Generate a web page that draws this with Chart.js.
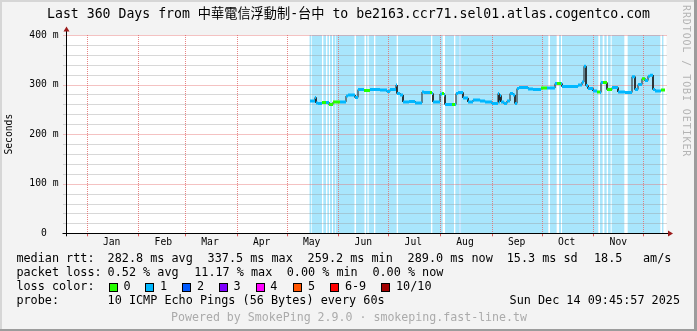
<!DOCTYPE html>
<html><head><meta charset="utf-8">
<script src="https://cdn.jsdelivr.net/npm/chart.js"></script>
<style>html,body{margin:0;padding:0;background:#f3f3f3}canvas{display:block}</style>
</head><body>
<canvas id="c" width="697" height="331" style="width:697px;height:331px"></canvas>
<script>
// ---------------- data ----------------
const chartTitle = 'Last 360 Days from 中華電信浮動制-台中 to be2163.ccr71.sel01.atlas.cogentco.com';
const yAxisTitle = 'Seconds';
// days counted from 2025-01-01 00:00
const xRangeDays = [-12.1, 347.9];
const monthLabels = ['Jan','Feb','Mar','Apr','May','Jun','Jul','Aug','Sep','Oct','Nov'];
const monthStartDay = [0,31,59,90,120,151,181,212,243,273,304,334];
const labelOffsetDays = 15;
const yMinMs = 0, yMaxMs = 400, yStepMs = 20, yMajorMs = 100;

// median rtt (ms) per sample, sample start day, loss level index
const sampleDay = [134.0,137.0,137.6,138.8,141.2,143.6,145.4,147.8,152.0,155.6,156.8,161.0,162.8,166.4,170.0,176.0,180.2,182.0,185.6,186.2,188.0,189.8,193.4,197.0,201.2,202.4,206.0,207.2,207.8,212.0,213.2,214.4,215.0,219.2,221.0,221.6,222.8,225.8,228.8,231.8,236.0,239.0,243.2,246.8,247.4,248.0,248.6,250.4,252.2,254.0,255.8,257.0,258.2,259.4,264.8,267.8,272.6,276.2,281.0,282.2,284.6,285.2,294.8,297.2,298.4,299.6,300.8,303.8,306.2,308.0,308.6,309.8,312.2,315.2,318.8,323.0,327.2,329.0,330.8,333.2,335.0,336.8,338.0,339.8,341.0,344.6];
const medianMs  = [267,274,263,262,264,264,260,265,265,277,279,274,290,288,290,289,286,290,299,282,279,265,266,263,285,284,284,282,265,281,282,279,260,260,260,282,284,273,265,269,267,265,262,282,265,278,265,262,267,282,279,262,292,294,291,290,293,293,302,302,302,296,299,305,337,298,292,287,285,284,304,304,290,294,285,284,316,290,300,312,308,317,319,290,287,289];
const lossLevel = [1,1,1,1,0,1,0,0,1,1,1,1,1,0,1,1,1,1,1,1,1,1,1,1,1,1,0,1,1,1,0,1,1,0,1,1,1,1,1,1,1,1,1,1,1,1,1,1,1,1,1,1,1,1,1,1,0,1,1,0,1,1,1,1,1,1,1,1,0,1,1,0,0,1,1,1,1,1,1,0,1,1,1,1,1,0];
const lastSampleEnd = 347.0;

// loss background periods (days)
const lossBg1Start = [133.6,135.0,142.0,144.4,146.0,147.8,149.4,161.6,167.6,169.2,173.2,186.8,207.4,215.0,221.2,224.3,278.0,283.4,285.2,308.0,310.6,312.8,315.0,324.6,345.2];
const lossBg1End   = [134.6,141.2,143.6,145.4,147.2,149.0,160.7,166.7,168.5,172.4,186.0,206.6,213.6,220.4,223.7,277.0,282.0,284.6,307.0,309.6,312.0,314.4,322.6,344.2,346.2];
const lossBg2Start = [223.7];
const lossBg2End   = [224.3];

const lossColors = ['#26ff00','#00b8ff','#0059ff','#7e00ff','#ff00ff','#ff5500','#ff0000','#a10000'];
const lossLabels = ['0','1','2','3','4','5','6-9','10/10'];

const legendRtt  = ['median rtt:','282.8 ms avg','337.5 ms max','259.2 ms min','289.0 ms now','15.3 ms sd','18.5','am/s'];
const legendLoss = ['packet loss:','0.52 % avg','11.17 % max','0.00 % min','0.00 % now'];
const legendLossColor = 'loss color:';
const legendProbe = ['probe:','10 ICMP Echo Pings (56 Bytes) every 60s'];
const legendDate = 'Sun Dec 14 09:45:57 2025';
const footerText = 'Powered by SmokePing 2.9.0 · smokeping.fast-line.tw';
const sideText = 'RRDTOOL / TOBI OETIKER';

// ---------------- build ----------------
const MONO = "'DejaVu Sans Mono', 'Noto Sans CJK TC', monospace";
const majorColor = 'rgba(228,110,110,0.85)';
const minorColor = 'rgba(150,150,150,0.75)';

function bgPoints(starts, ends){
  const p = [];
  starts.forEach((s,i)=>{ p.push({x:s,y:yMaxMs}); p.push({x:ends[i],y:yMinMs}); });
  return p;
}
const stepPts = [];
for (let i=0;i<sampleDay.length;i++){
  const x1 = i+1 < sampleDay.length ? sampleDay[i+1] : lastSampleEnd;
  stepPts.push({x:sampleDay[i], y:medianMs[i], l:lossLevel[i]});
  stepPts.push({x:x1, y:medianMs[i], l:lossLevel[i]});
}
const labelDays = monthLabels.map((m,i)=>monthStartDay[i]+labelOffsetDays);
const yGridValues = [];
for (let v=yMinMs; v<=yMaxMs; v+=yStepMs) yGridValues.push(v);

const gridPlugin = {
  id:'rrdgrid',
  afterDatasetDraw(chart, args){
    if (args.index !== 2) return;   // after the loss backgrounds
    const {ctx, chartArea:ca} = chart;
    const xs = chart.scales.x, ys = chart.scales.y;
    ctx.save();
    ctx.lineWidth = 1;
    ctx.setLineDash([1,1]);
    yGridValues.forEach(v=>{
      if (v === yMinMs) return;
      const y = Math.round(ys.getPixelForValue(v)) + 0.5;
      ctx.strokeStyle = v % yMajorMs === 0 ? majorColor : minorColor;
      ctx.beginPath(); ctx.moveTo(ca.left-3, y); ctx.lineTo(ca.right, y); ctx.stroke();
    });
    monthStartDay.forEach(d=>{
      const x = Math.round(xs.getPixelForValue(d)) + 0.5;
      ctx.strokeStyle = majorColor;
      ctx.beginPath(); ctx.moveTo(x, ca.top); ctx.lineTo(x, ca.bottom); ctx.stroke();
    });
    ctx.setLineDash([]);
    ctx.strokeStyle = 'rgba(220,70,70,0.9)';
    monthStartDay.forEach(d=>{
      const x = Math.round(xs.getPixelForValue(d)) + 0.5;
      ctx.beginPath(); ctx.moveTo(x, ca.bottom); ctx.lineTo(x, ca.bottom+3); ctx.stroke();
    });
    ctx.restore();
  }
};

const framePlugin = {
  id:'frame',
  beforeDraw(chart){
    const {ctx, chartArea:ca, width, height} = chart;
    ctx.save();
    ctx.fillStyle = '#f3f3f3'; ctx.fillRect(0,0,width,height);
    ctx.fillStyle = '#d6d6d6'; ctx.fillRect(0,0,width,2); ctx.fillRect(0,0,2,height);
    ctx.fillStyle = '#9c9c9c'; ctx.fillRect(width-3,0,3,height); ctx.fillRect(0,height-2,width,2);
    ctx.fillStyle = '#ffffff'; ctx.fillRect(ca.left, ca.top, ca.right-ca.left, ca.bottom-ca.top);
    ctx.restore();
  },
  afterDraw(chart){
    const {ctx, chartArea:ca} = chart;
    ctx.save();
    // axes
    const ax = Math.floor(ca.left)+0.5, ay = Math.floor(ca.bottom)+0.5;
    ctx.strokeStyle = '#000'; ctx.lineWidth = 1;
    ctx.beginPath(); ctx.moveTo(ca.left-4, ay); ctx.lineTo(ca.right+2, ay); ctx.stroke();
    ctx.beginPath(); ctx.moveTo(ax, ca.bottom+3); ctx.lineTo(ax, ca.top-4); ctx.stroke();
    ctx.fillStyle = '#9b1b1b';
    ctx.beginPath(); ctx.moveTo(ca.right+1.5, ay-3); ctx.lineTo(ca.right+1.5, ay+3); ctx.lineTo(ca.right+6.5, ay); ctx.closePath(); ctx.fill();
    ctx.beginPath(); ctx.moveTo(ax-3, ca.top-3.5); ctx.lineTo(ax+3, ca.top-3.5); ctx.lineTo(ax, ca.top-8.5); ctx.closePath(); ctx.fill();

    // legend
    ctx.font = '11.8px ' + MONO; ctx.fillStyle = '#000'; ctx.textBaseline = 'middle'; ctx.textAlign = 'left';
    const rttX = [16.4,107.6,207.6,307.6,407.6,506.7,594,643];
    legendRtt.forEach((t,i)=>ctx.fillText(t, rttX[i], 259));
    const lossX = [16.4,107.6,194.2,286.7,372.4];
    legendLoss.forEach((t,i)=>ctx.fillText(t, lossX[i], 273));
    ctx.fillText(legendLossColor, 16.4, 287);
    const boxX = [108.9,145.3,182.2,218.7,255.6,293.3,330.2,381.3];
    lossColors.forEach((c,i)=>{
      const bx = Math.round(boxX[i])+0.5;
      ctx.fillStyle = c; ctx.fillRect(bx, 283.5, 8, 8);
      ctx.strokeStyle = '#000'; ctx.strokeRect(bx, 283.5, 8, 8);
      ctx.fillStyle = '#000'; ctx.fillText(lossLabels[i], boxX[i]+14.7, 287);
    });
    ctx.fillText(legendProbe[0], 16.4, 301);
    ctx.fillText(legendProbe[1], 107.6, 301);
    ctx.textAlign = 'right'; ctx.fillText(legendDate, 680, 301);
    ctx.textAlign = 'center'; ctx.fillStyle = '#ababab'; ctx.font = '11.6px ' + MONO;
    ctx.fillText(footerText, 349, 318);
    // side text
    ctx.translate(686, 5); ctx.rotate(Math.PI/2);
    ctx.textAlign = 'left'; ctx.fillStyle = '#b4b4b4'; ctx.font = '10px ' + MONO;
    try { ctx.letterSpacing = '0.9px'; } catch(e) {}
    ctx.fillText(sideText, 0, 0);
    ctx.restore();
  }
};

new Chart(document.getElementById('c'), {
  type: 'line',
  data: { datasets: [
    { label:'median', data: stepPts, order:1, borderWidth:3, pointRadius:0, fill:false,
      segment: { borderColor: c => (c.p0.parsed.x === c.p1.parsed.x) ? 'rgba(0,0,0,0)' : lossColors[stepPts[c.p0DataIndex].l] } },
    { label:'smoke', data: stepPts, order:2, borderWidth:1, borderColor:'#1c1c1c', pointRadius:0, fill:false },
    { label:'loss2', data: bgPoints(lossBg2Start, lossBg2End), order:3, stepped:'before', borderWidth:0, pointRadius:0, fill:'origin', backgroundColor:'#adc6ff' },
    { label:'loss1', data: bgPoints(lossBg1Start, lossBg1End), order:4, stepped:'before', borderWidth:0, pointRadius:0, fill:'origin', backgroundColor:'#a9e6fc' }
  ]},
  options: {
    responsive:false, animation:false, devicePixelRatio:1,
    layout: { padding: 0 },
    plugins: {
      legend:{display:false}, tooltip:{enabled:false},
      title:{ display:true, text: chartTitle, color:'#000', font:{family:MONO, size:13.2, weight:'normal'}, padding:{top:7, bottom:12.16} }
    },
    scales: {
      x: { type:'linear', min:xRangeDays[0], max:xRangeDays[1],
        afterBuildTicks: s => { s.ticks = labelDays.map(v=>({value:v})); },
        afterFit: s => { s.height = 331 - 233.3; },
        grid: { display:false, drawTicks:false },
        border: { display:false },
        ticks: { autoSkip:false, maxRotation:0, minRotation:0, padding:3, color:'#000', font:{family:MONO, size:9.7},
          callback: v => { const i = labelDays.indexOf(v); return i >= 0 ? monthLabels[i] : ''; } }
      },
      y: { type:'linear', min:yMinMs, max:yMaxMs,
        afterBuildTicks: s => { s.ticks = yGridValues.filter(v=>v % yMajorMs === 0).map(v=>({value:v})); },
        afterFit: s => { s.width = 66.5; },
        grid: { display:false, drawTicks:false },
        border: { display:false },
        ticks: { padding:8, color:'#000', font:{family:MONO, size:9.7},
          callback: v => (v === 0 ? '0  ' : v + ' m') },
        title: { display:true, text:yAxisTitle, color:'#000', font:{family:MONO, size:9.7}, padding:{top:4, bottom:0} }
      },
      yr: { type:'linear', position:'right', display:true,
        afterFit: s => { s.width = 30.5; },
        grid: { display:false, drawTicks:false }, border: { display:false }, ticks: { display:false } }
    }
  },
  plugins: [gridPlugin, framePlugin]
});
</script>
</body></html>
